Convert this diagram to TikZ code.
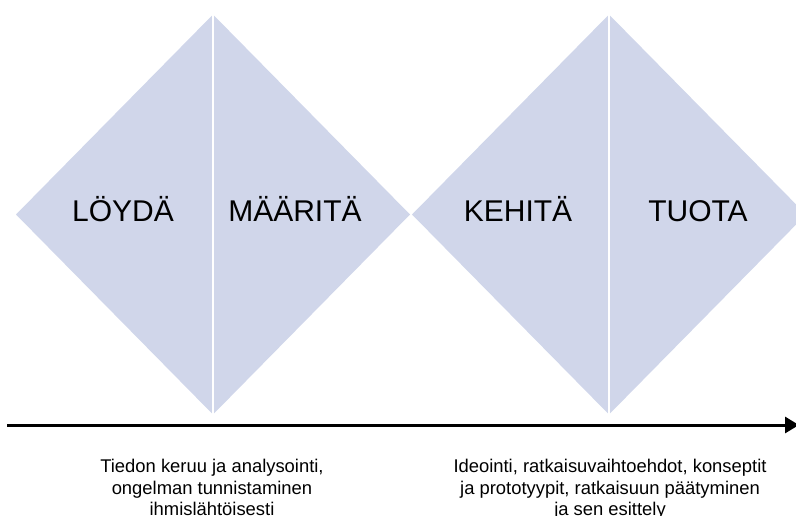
\documentclass[tikz,border=0pt]{standalone}
\usepackage{fontspec}
\setmainfont{Liberation Sans}
\usetikzlibrary{arrows.meta}
\definecolor{diamondfill}{RGB}{208,214,234}

\tikzset{
  phase/.style={anchor=base,font=\fontsize{30}{36}\selectfont},
  note/.style={anchor=north,align=center,font=\fontsize{18.4}{21.7}\selectfont},
  divider/.style={white,line width=2pt}
}

\begin{document}
\begin{tikzpicture}[x=1pt,y=-1pt,>={Triangle[length=14pt,width=16pt]}]
\useasboundingbox (0,0) rectangle (796,515);
\clip (0,0) rectangle (796,515);

% the two diamonds
\fill[diamondfill] (16,214.5)--(213,14.5)--(410,214.5)--(213,414.5)--cycle;
\fill[diamondfill] (412,214.5)--(609,14.5)--(806,214.5)--(609,414.5)--cycle;
\draw[divider] (213,14)--(213,415);
\draw[divider] (609,14)--(609,415);

\node[phase] (loyda) at (123,221.7) {LÖYDÄ};
\node[phase] (maarita) at (295,221.7) {MÄÄRITÄ};
\node[phase] (kehita) at (518,221.7) {KEHITÄ};
\node[phase] (tuota) at (698,221.7) {TUOTA};

% time axis
\coordinate (start) at (7,425);
\coordinate (stop) at (799,425);
\draw[->,line width=3pt] (start)--(stop);

\node[note] (left) at (212,455.5) {Tiedon keruu ja analysointi,\\ongelman tunnistaminen\\ihmislähtöisesti};
\node[note] (right) at (610,455.5) {Ideointi, ratkaisuvaihtoehdot, konseptit\\ja prototyypit, ratkaisuun päätyminen\\ja sen esittely};
\end{tikzpicture}
\end{document}
